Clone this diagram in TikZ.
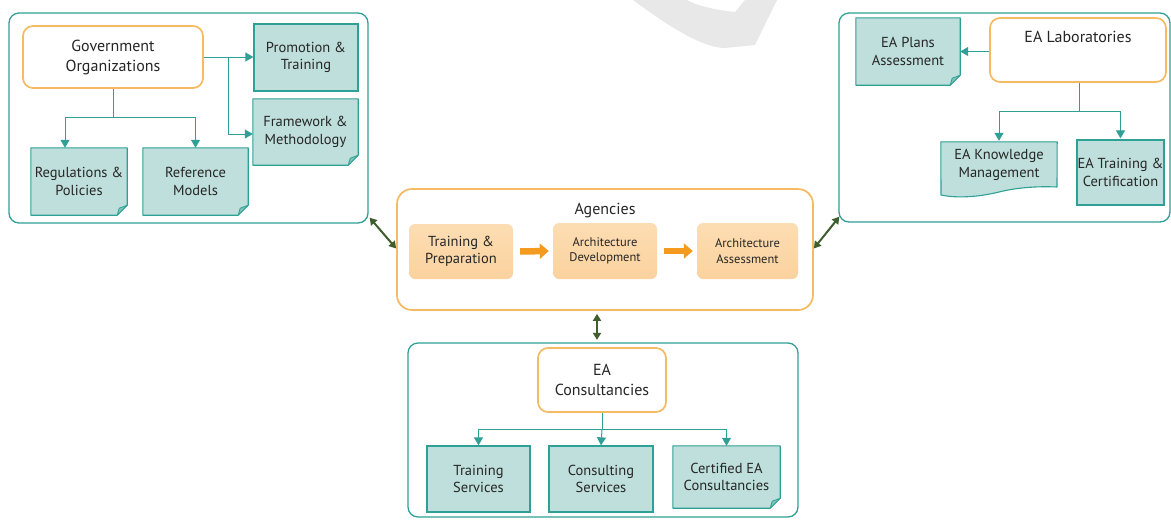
\documentclass[tikz,border=0pt]{standalone}
\usepackage{fontspec}
\setmainfont{PT Sans}
\usetikzlibrary{arrows.meta,backgrounds,calc}
\definecolor{tealc}{HTML}{2FA096}
\definecolor{tealfill}{HTML}{BEDFDB}
\definecolor{foldc}{HTML}{7FC2BA}
\definecolor{orangec}{HTML}{F5BA62}
\definecolor{orangea}{HTML}{F39A1F}
\definecolor{agtop}{HTML}{FCDDB3}
\definecolor{agbot}{HTML}{FBD29E}
\definecolor{greenc}{HTML}{3E5E2D}
\definecolor{txt}{HTML}{262626}
\definecolor{wm}{HTML}{E8E8E8}
\newcommand\bigfont{\fontsize{16}{20}\selectfont}
\newcommand\boxfont{\fontsize{14.5}{17.5}\selectfont}
\newcommand\smallfont{\fontsize{12.5}{15.5}\selectfont}
\newcommand\notedraw[1]{%
  \filldraw[draw=tealc, fill=tealfill, line width=1.1pt, line join=round]
    (#1.north west) -- (#1.north east) -- ([yshift=10pt]#1.south east)
    -- ([xshift=-10pt]#1.south east) -- (#1.south west) -- cycle;
  \filldraw[draw=tealc, fill=foldc, line width=0.8pt, line join=round]
    ([yshift=10pt]#1.south east) -- ([xshift=-10pt]#1.south east)
    -- ([xshift=-8pt,yshift=7pt]#1.south east) -- cycle;}
\begin{document}
\begin{tikzpicture}[x=1pt,y=-1pt,
  every node/.style={text=txt, inner sep=0pt},
  container/.style={draw=tealc, line width=1.3pt, rounded corners=10pt},
  obox/.style={draw=orangec, line width=1.7pt, rounded corners=10pt, fill=white, align=center, font=\bigfont},
  tbox/.style={draw=tealc, fill=tealfill, line width=1.3pt, align=center, font=\boxfont},
  notebox/.style={align=center, font=\boxfont},
  abox/.style={rounded corners=6pt, top color=agtop, bottom color=agbot, align=center},
  tline/.style={draw=tealc, line width=1pt, -{Triangle[length=8pt,width=9pt]}},
  tplain/.style={draw=tealc, line width=1pt},
  garrow/.style={draw=greenc, line width=2pt, {Triangle[length=7pt,width=8pt]}-{Triangle[length=7pt,width=8pt]}},
  oarrow/.style={draw=orangea, line width=6.5pt, -{Triangle[length=9pt,width=15pt]}}
]
\useasboundingbox (0,0) rectangle (1171,520);
% watermark
\fill[wm] (633,0) .. controls (660,20) and (700,48) .. (725,48) -- (755,45) -- (777,0)
  -- (745,0) -- (735,12) .. controls (715,10) and (695,5) .. (687,0) -- cycle;

% ---------- left group
\node[container, minimum width=359pt, minimum height=210pt] (L) at (188.5,118) {};
\node[obox, minimum width=180pt, minimum height=62pt] (gov) at (113,57) {Government\\Organizations};
\node[tbox, minimum width=104pt, minimum height=67pt] (promo) at (306,57.5) {Promotion \&\\Training};
\node[notebox, minimum width=105pt, minimum height=66pt] (frame) at (305.5,132) {Framework \&\\Methodology};
\node[notebox, minimum width=96pt, minimum height=67pt] (reg) at (79,181.5) {Regulations \&\\Policies};
\node[notebox, minimum width=105pt, minimum height=67pt] (refm) at (195.5,181.5) {Reference\\Models};

% ---------- right group
\node[container, minimum width=331pt, minimum height=209pt] (R) at (1004.5,117.5) {};
\node[obox, minimum width=176pt, minimum height=64pt] (lab) at (1078,50) {EA Laboratories\\ \strut};
\node[notebox, minimum width=104pt, minimum height=67pt] (plans) at (908,51.5) {EA Plans\\Assessment};
\node[notebox, minimum width=116pt, minimum height=46pt] (ekm) at (999,165) {EA Knowledge\\Management};
\node[tbox, minimum width=87pt, minimum height=65pt] (etc) at (1120.5,172.5) {EA Training \&\\Certification};

% ---------- agencies
\node[obox, minimum width=416pt, minimum height=121pt, fill=none, rounded corners=15pt] (A) at (605,249.5) {};
\node[font=\bigfont] (ag) at (605,211) {Agencies};
\node[abox, font=\boxfont, minimum width=104pt, minimum height=55pt] (tp) at (461,251.5) {Training \&\\Preparation};
\node[abox, font=\smallfont, minimum width=104pt, minimum height=56pt] (ad) at (605,251) {Architecture\\Development};
\node[abox, font=\smallfont, minimum width=101pt, minimum height=56pt] (aa) at (747.5,251) {Architecture\\Assessment};

% ---------- bottom group
\node[container, minimum width=390pt, minimum height=174pt] (B) at (603,430) {};
\node[obox, minimum width=128pt, minimum height=64pt] (eac) at (602,380) {EA\\Consultancies};
\node[tbox, minimum width=103pt, minimum height=66pt] (ts) at (478.5,479) {Training\\Services};
\node[tbox, minimum width=104pt, minimum height=66pt] (cs) at (601,479) {Consulting\\Services};
\node[notebox, minimum width=107pt, minimum height=62pt] (cea) at (726.5,477) {Certified EA\\Consultancies};

% ---------- note outlines
\begin{scope}[on background layer]
  \notedraw{frame}
  \notedraw{reg}
  \notedraw{refm}
  \notedraw{plans}
  \notedraw{cea}
  \filldraw[draw=tealc, fill=tealfill, line width=1.1pt, line join=round]
    (ekm.north west) -- (ekm.north east) -- (1057,187)
    .. controls (1035,186) and (1015,188) .. (999,192)
    .. controls (983,196) and (960,199) .. (941,195) -- cycle;
\end{scope}

% ---------- connectors (left)
\coordinate (gj) at ($(gov.south)+(0,29)$);
\draw[tplain] (gov.south) -- (gj);
\draw[tline] (gj) -| ([xshift=-14pt]reg.north);
\draw[tline] (gj) -| (refm.north);
\draw[tline] (gov.east) -- (gov.east -| promo.west);
\coordinate (gk) at ($(gov.east)+(25,0)$);
\draw[tline] (gk) |- ([yshift=-2pt]frame.west);

% ---------- connectors (right)
\draw[tline] (lab.west |- plans.east) -- (plans.east);
\coordinate (lj) at ($(lab.south)+(1,29)$);
\draw[tplain] (lab.south -| lj) -- (lj);
\draw[tline] (lj) -| ([yshift=1pt]ekm.north);
\draw[tline] (lj) -| ([yshift=1pt]etc.north);

% ---------- connectors (bottom)
\coordinate (bj) at ($(eac.south)+(0,17)$);
\draw[tplain] (eac.south) -- (bj);
\draw[tline] (bj) -| (ts.north);
\draw[tline] (bj) -- (cs.north);
\draw[tline] (bj) -| (cea.north);

% ---------- agencies flow
\draw[oarrow] ([xshift=7pt]tp.east) -- ([xshift=-4pt]ad.west);
\draw[oarrow] ([xshift=7pt]ad.east) -- ([xshift=-4pt]aa.west);

% ---------- inter-group arrows
\draw[garrow] ([xshift=1pt,yshift=6pt]L.south east) -- ([yshift=1pt]A.west);
\draw[garrow] ([yshift=1pt]A.east) -- ([xshift=1pt,yshift=6pt]R.south west);
\draw[garrow] ([xshift=-8pt,yshift=-3pt]A.south) -- ([xshift=-8pt,yshift=-29pt]A.south);
\end{tikzpicture}
\end{document}
